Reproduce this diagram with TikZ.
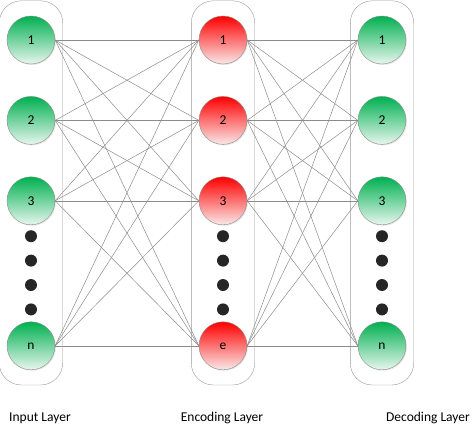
\documentclass[tikz,border=0pt]{standalone}
\usepackage{fontspec}
\setmainfont{Carlito}
\usetikzlibrary{positioning, fit, shadows}

\definecolor{greentop}{RGB}{0,176,80}
\definecolor{greenbot}{RGB}{232,246,238}
\definecolor{redtop}{RGB}{255,0,0}
\definecolor{redbot}{RGB}{250,232,232}

\tikzset{
	neuron/.style={circle, draw=gray!90, minimum size=48pt, inner sep=0pt,
		font=\fontsize{13.5}{15}\selectfont,
		drop shadow={opacity=0.2, shadow xshift=1pt, shadow yshift=-1pt}},
	inp/.style={neuron, top color=greentop, bottom color=greenbot},
	enc/.style={neuron, top color=redtop, bottom color=redbot},
	dot/.style={circle, fill=black!85, minimum size=12pt, inner sep=0pt},
	layerbox/.style={draw=gray!80, rounded corners=22pt, inner xsep=7.5pt, inner ysep=15pt},
	link/.style={black!45, line width=0.5pt},
	caption/.style={font=\fontsize{13.5}{16}\selectfont}
}

\begin{document}
\begin{tikzpicture}[x=1pt, y=-1pt]
			\useasboundingbox (0,0) rectangle (474,431);
			
			% input layer
			\node[inp] (i1) at (31,40) {1};
			\node[inp, below=32pt of i1] (i2) {2};
			\node[inp, below=32pt of i2] (i3) {3};
			\node[dot, below=5pt of i3] (ia) {};
			\node[dot, below=12pt of ia] (ib) {};
			\node[dot, below=12pt of ib] (ic) {};
			\node[dot, below=12pt of ic] (id) {};
			\node[inp, below=6pt of id] (in) {n};
			
			% encoding layer
			\node[enc] (e1) at (223,40) {1};
			\node[enc, below=32pt of e1] (e2) {2};
			\node[enc, below=32pt of e2] (e3) {3};
			\node[dot, below=5pt of e3] (ea) {};
			\node[dot, below=12pt of ea] (eb) {};
			\node[dot, below=12pt of eb] (ec) {};
			\node[dot, below=12pt of ec] (ed) {};
			\node[enc, below=6pt of ed] (ee) {e};
			
			% decoding layer
			\node[inp] (d1) at (382,40) {1};
			\node[inp, below=32pt of d1] (d2) {2};
			\node[inp, below=32pt of d2] (d3) {3};
			\node[dot, below=5pt of d3] (da) {};
			\node[dot, below=12pt of da] (db) {};
			\node[dot, below=12pt of db] (dc) {};
			\node[dot, below=12pt of dc] (dd) {};
			\node[inp, below=6pt of dd] (dn) {n};
			
			\node[layerbox, fit=(i1)(in)] (boxi) {};
			\node[layerbox, fit=(e1)(ee)] (boxe) {};
			\node[layerbox, fit=(d1)(dn)] (boxd) {};
			
			\foreach \a in {1,2,3,n}
				\foreach \b in {1,2,3,e}
					\draw[link] (i\a.east) -- (e\b.west);
			\foreach \a in {1,2,3,e}
				\foreach \b in {1,2,3,n}
					\draw[link] (e\a.east) -- (d\b.west);
			
			\node[caption] (capi) at (40,418) {Input Layer};
			\node[caption] (cape) at (222,418) {Encoding Layer};
			\node[caption] (capd) at (428,418) {Decoding Layer};
		\end{tikzpicture}
\end{document}
